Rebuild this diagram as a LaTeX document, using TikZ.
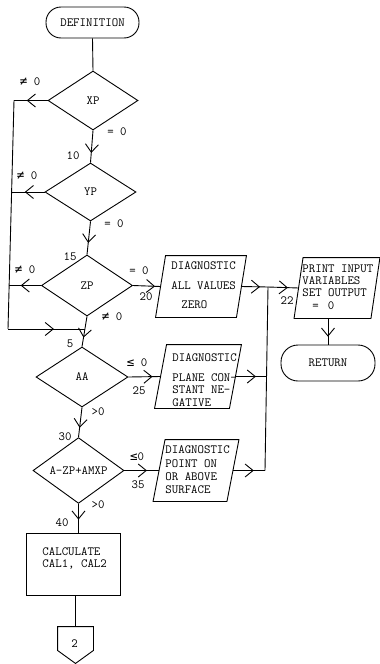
\documentclass[tikz,border=0pt]{standalone}
\usepackage{fontspec}
\newfontfamily\symf{DejaVu Sans Mono}
\usetikzlibrary{shapes.geometric,arrows.meta,decorations.markings}
\newcommand\paraout[2]{\draw ([xshift=#2]#1.north west) -- ([xshift=#2]#1.north east) -- ([xshift=-#2]#1.south east) -- ([xshift=-#2]#1.south west) -- cycle;}
\newcommand\nesym{{\symf\fontsize{12.5}{13}\selectfont ≠}}
\newcommand\lesym{{\symf\fontsize{12.5}{13}\selectfont ≤}}
\begin{document}
\begin{tikzpicture}[x=1pt,y=-1pt,line width=0.9pt,font=\ttfamily\fontsize{12.5}{13}\selectfont]
\tikzset{
 term/.style={draw, rectangle, rounded corners=15pt, minimum width=#1, minimum height=31pt, inner sep=0pt},
 dec/.style={draw, diamond, inner sep=0pt},
 box/.style={draw=none, rectangle, inner sep=0pt},
 lab/.style={inner sep=0pt},
 txt/.style={inner sep=0pt, align=left, anchor=west},
 marr/.style={postaction={decorate}, decoration={markings, mark=at position #1 with {\arrow{Straight Barb[length=8pt,width=13pt]}}}},
}
\useasboundingbox (0,0) rectangle (380,664);
% terminators
\node[term=93pt] (def) at (92.5,22.5) {DEFINITION};
\node[term=94pt, minimum height=36pt, rounded corners=17pt] (ret) at (328,363) {RETURN};
% decisions
\node[dec, minimum width=90pt, minimum height=59pt] (xp) at (93,100.5) {XP};
\node[dec, minimum width=91pt, minimum height=58pt] (yp) at (90.5,192) {YP};
\node[dec, minimum width=91pt, minimum height=61pt] (zp) at (87,285.5) {ZP};
\node[dec, minimum width=92pt, minimum height=60pt] (aa) at (82,377) {AA};
\node[dec, minimum width=91pt, minimum height=59pt] (azp) at (78.5,470.5) {A-ZP+AMXP};
% process
\node[draw, rectangle, minimum width=94pt, minimum height=62pt] (calc) at (73,564) {};
\node[txt, font=\ttfamily\fontsize{12.5}{12}\selectfont] (tcalc) at (42,558) {CALCULATE\\CAL1, CAL2};
% off-page connector
\node[box, minimum width=35pt, minimum height=23pt] (c2) at (75.5,638.5) {};
\draw (c2.north west) -- (c2.north east) -- (c2.south east) -- ([yshift=-13pt]c2.south) -- (c2.south west) -- cycle;
\node[lab] (t2) at (74.5,644) {2};
% parallelograms
\node[box, minimum width=80pt, minimum height=61pt] (d1) at (201,286.5) {};
\paraout{d1}{5pt}
\node[txt, font=\ttfamily\fontsize{12.5}{13}\selectfont] (td1) at (171,285.5) {DIAGNOSTIC\\[6.5pt]ALL VALUES\\[6.5pt]\hspace*{10pt}ZERO};
\node[box, minimum width=74pt, minimum height=63pt] (d2) at (198,376.5) {};
\paraout{d2}{6pt}
\node[txt, font=\ttfamily\fontsize{12.5}{12.3}\selectfont] (td2) at (172,380) {DIAGNOSTIC\\[7.5pt]PLANE CON-\\STANT NE-\\GATIVE};
\node[box, minimum width=73pt, minimum height=61pt] (d3) at (196,470.5) {};
\paraout{d3}{6pt}
\node[txt, font=\ttfamily\fontsize{12.5}{13.3}\selectfont] (td3) at (165,470) {DIAGNOSTIC\\POINT ON\\OR ABOVE\\SURFACE};
\node[box, minimum width=76pt, minimum height=60pt] (pr) at (337,288) {};
\paraout{pr}{4.5pt}
\node[txt, font=\ttfamily\fontsize{12.5}{12.3}\selectfont] (tpr) at (302,287) {PRINT INPUT\\VARIABLES\\SET OUTPUT\\\hspace*{10pt}=\hspace*{9pt}0};
% junction coordinates
\coordinate (l1) at (14,100.5);
\coordinate (l2) at (11.6,192);
\coordinate (l3) at (9.2,285.5);
\coordinate (l4) at (8,329);
\coordinate (j5) at (84.5,329);
\coordinate (j22) at (268,287);
\coordinate (j25) at (266.5,376.5);
\coordinate (j35) at (265,470.5);
% connectors
\draw (def.south) -- (xp.north);
\draw[marr=0.62] (xp.west) -- (l1);
\draw[marr=0.7] (xp.south) -- (yp.north);
\draw[marr=0.6] (yp.west) -- (l2);
\draw[marr=0.65] (yp.south) -- (zp.north);
\draw[marr=0.64] (zp.west) -- (l3);
\draw[marr=0.8] (zp.east) -- (d1.west);
\draw (l1) -- (l4);
\draw[marr=0.6] (l4) -- (j5);
\draw[marr=0.7] (zp.south) -- (aa.north);
\draw[marr=0.75] (aa.east) -- (d2.west);
\draw[marr=0.68] (aa.south) -- (azp.north);
\draw[marr=0.65] (azp.east) -- (d3.west);
\draw[marr=0.55] (azp.south) -- (azp.south |- calc.north);
\draw (c2.north |- calc.south) -- (c2.north);
\draw[marr=0.7] (d1.east) -- (j22);
\draw[marr=0.65] (j22) -- (pr.west);
\draw (j22) -- (j35);
\draw[marr=0.66] (d2.east) -- (j25);
\draw[marr=0.65] (d3.east) -- (j35);
\draw[marr=0.7] (ret.north |- pr.south) -- (ret.north);
% labels
\node[lab] (a1) at (30,82) {\nesym{} 0};
\node[lab] (a2) at (117,132) {= 0};
\node[lab] (a3) at (73,156) {10};
\node[lab] (a4) at (27,176) {\nesym{} 0};
\node[lab] (a5) at (114,224) {= 0};
\node[lab] (a6) at (70,257) {15};
\node[lab] (a7) at (25,270) {\nesym{} 0};
\node[lab] (a8) at (139,271) {= 0};
\node[lab] (a9) at (146,297) {20};
\node[lab] (a10) at (112,317) {\nesym{} 0};
\node[lab] (a11) at (70,344) {5};
\node[lab] (a12) at (137,363) {\lesym{} 0};
\node[lab] (a13) at (139,391) {25};
\node[lab] (a14) at (98,412) {>0};
\node[lab] (a15) at (65,437) {30};
\node[lab] (a16) at (137,457) {\lesym0};
\node[lab] (a17) at (138,485) {35};
\node[lab] (a18) at (98,505) {>0};
\node[lab] (a19) at (62,523) {40};
\node[lab] (a20) at (287,301) {22};
\end{tikzpicture}
\end{document}
